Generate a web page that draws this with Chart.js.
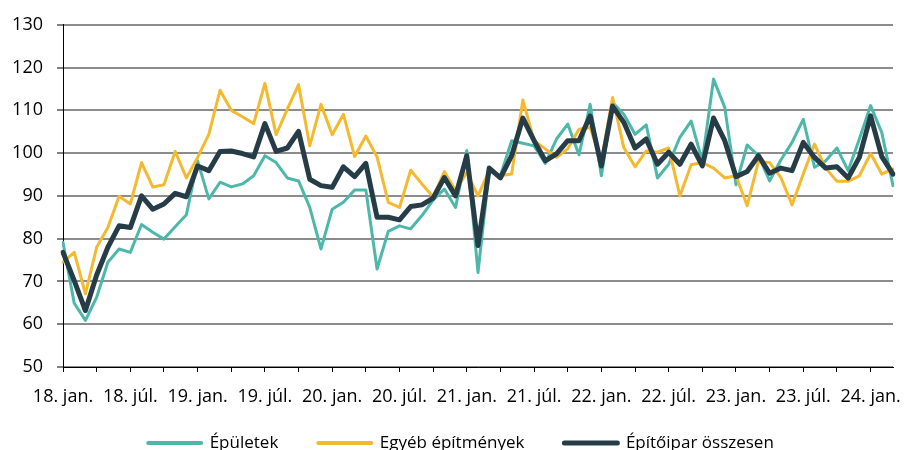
<!DOCTYPE html>
<html>
<head>
<meta charset="utf-8">
<script src="https://cdn.jsdelivr.net/npm/chart.js@4.4.1/dist/chart.umd.min.js"></script>
<style>
html,body{margin:0;padding:0;background:#ffffff;}
#wrap{width:907px;height:450px;position:relative;}
</style>
</head>
<body>
<div id="wrap"><canvas id="c" width="907" height="450"></canvas></div>
<script>
const categories = [
  '18. jan.','18. febr.','18. márc.','18. ápr.','18. máj.','18. jún.','18. júl.','18. aug.','18. szept.','18. okt.','18. nov.','18. dec.',
  '19. jan.','19. febr.','19. márc.','19. ápr.','19. máj.','19. jún.','19. júl.','19. aug.','19. szept.','19. okt.','19. nov.','19. dec.',
  '20. jan.','20. febr.','20. márc.','20. ápr.','20. máj.','20. jún.','20. júl.','20. aug.','20. szept.','20. okt.','20. nov.','20. dec.',
  '21. jan.','21. febr.','21. márc.','21. ápr.','21. máj.','21. jún.','21. júl.','21. aug.','21. szept.','21. okt.','21. nov.','21. dec.',
  '22. jan.','22. febr.','22. márc.','22. ápr.','22. máj.','22. jún.','22. júl.','22. aug.','22. szept.','22. okt.','22. nov.','22. dec.',
  '23. jan.','23. febr.','23. márc.','23. ápr.','23. máj.','23. jún.','23. júl.','23. aug.','23. szept.','23. okt.','23. nov.','23. dec.',
  '24. jan.','24. febr.','24. márc.'
];

const epuletek = [
  79.1, 64.9, 60.9, 66.3, 74.5, 77.6, 76.8, 83.3, 81.5, 79.9, 82.8, 85.6,
  98.2, 89.3, 93.2, 92.1, 92.8, 94.7, 99.4, 97.8, 94.2, 93.5, 87.3, 77.6,
  86.9, 88.5, 91.4, 91.4, 72.9, 81.7, 83.0, 82.3, 85.4, 89.0, 91.6, 87.3,
  100.6, 72.1, 95.9, 94.7, 102.9, 102.3, 101.7, 97.6, 103.3, 106.8, 99.6, 111.4,
  94.7, 111.8, 109.1, 104.4, 106.6, 94.2, 97.4, 103.7, 107.5, 98.2, 117.3, 110.7,
  92.6, 101.9, 99.4, 93.5, 98.4, 102.5, 107.9, 96.7, 98.2, 101.2, 95.9, 103.3,
  111.1, 104.8, 92.4
];

const egyeb = [
  74.5, 76.8, 67.1, 78.0, 82.6, 89.9, 88.1, 97.8, 92.1, 92.6, 100.4, 94.2,
  99.0, 104.4, 114.7, 110.0, 108.5, 106.9, 116.3, 104.3, 110.3, 116.0, 101.7, 111.4,
  104.3, 109.1, 99.2, 104.0, 99.1, 88.5, 87.3, 96.0, 92.8, 89.8, 95.7, 91.2,
  95.5, 90.0, 95.9, 94.7, 95.1, 112.4, 102.9, 101.0, 99.0, 101.0, 105.6, 106.0,
  98.2, 113.0, 101.3, 96.8, 100.5, 100.2, 101.2, 90.0, 97.3, 97.8, 96.5, 94.2,
  94.7, 87.7, 98.0, 97.8, 94.3, 87.9, 95.1, 102.1, 96.5, 93.4, 93.4, 94.7,
  99.9, 95.1, 96.3
];

const osszesen = [
  76.8, 70.2, 63.2, 71.5, 78.0, 83.0, 82.6, 90.0, 86.9, 88.1, 90.6, 89.8,
  97.0, 95.9, 100.4, 100.5, 99.9, 99.1, 106.9, 100.4, 101.2, 105.1, 93.9, 92.4,
  92.0, 96.8, 94.5, 97.6, 85.0, 85.0, 84.4, 87.5, 87.9, 89.5, 94.3, 90.0,
  99.4, 78.4, 96.5, 94.2, 99.4, 108.2, 102.9, 98.2, 99.8, 102.9, 102.9, 108.7,
  97.0, 111.0, 107.2, 101.2, 103.3, 97.4, 100.2, 97.4, 102.1, 97.0, 108.2, 102.9,
  94.5, 95.7, 99.4, 95.3, 96.5, 95.9, 102.5, 99.0, 96.5, 96.8, 94.2, 99.0,
  108.7, 99.2, 95.1
];

const seriesNames = ['Épületek', 'Egyéb építmények', 'Építőipar összesen'];
const seriesColors = ['#4db8aa', '#f4b92f', '#263d48'];
const seriesWidths = [3, 3, 5];
const seriesOrder = [2, 1, 0];

const yMin = 50, yMax = 130, yStep = 10;

const FONT = '"Open Sans", "Noto Sans", sans-serif';

const seriesData = [epuletek, egyeb, osszesen];
const datasets = seriesData.map((d, i) => ({
  label: seriesNames[i],
  data: d,
  borderColor: seriesColors[i],
  backgroundColor: seriesColors[i],
  borderWidth: seriesWidths[i],
  pointRadius: 0,
  pointHoverRadius: 0,
  tension: 0,
  borderJoinStyle: 'round',
  borderCapStyle: 'round',
  fill: false,
  order: seriesOrder[i]
}));

// nudge the legend box (Excel-like placement)
const legendNudge = {
  id: 'legendNudge',
  afterLayout(chart) {
    const l = chart.legend;
    if (!l) return;
    l.left += 12; l.right += 12;
    l.top -= 12.5;
  }
};

new Chart(document.getElementById('c'), {
  type: 'line',
  data: { labels: categories, datasets: datasets },
  plugins: [legendNudge],
  options: {
    responsive: false,
    animation: false,
    devicePixelRatio: 1,
    layout: { padding: { top: 24, left: 0, right: 9, bottom: 0 } },
    plugins: {
      tooltip: { enabled: false },
      legend: {
        position: 'bottom',
        maxHeight: 43,
        labels: {
          usePointStyle: true,
          pointStyleWidth: 53,
          padding: 40,
          color: '#000000',
          font: { family: FONT, size: 17 },
          generateLabels: (chart) => chart.data.datasets.map((ds, i) => ({
            text: ds.label,
            fillStyle: ds.borderColor,
            strokeStyle: ds.borderColor,
            lineWidth: i === 2 ? 5 : 4,
            lineCap: 'round',
            pointStyle: 'line',
            hidden: false,
            datasetIndex: i,
            fontColor: '#000000'
          }))
        }
      }
    },
    scales: {
      x: {
        type: 'category',
        offset: false,
        grid: {
          drawOnChartArea: false,
          drawTicks: true,
          tickLength: 5,
          tickWidth: 1,
          tickColor: (ctx) => (ctx.index % 3 === 0 ? '#000000' : 'rgba(0,0,0,0)')
        },
        border: { display: true, color: '#000000', width: 1 },
        ticks: {
          autoSkip: false,
          maxRotation: 0,
          minRotation: 0,
          padding: 14,
          color: '#000000',
          font: { family: FONT, size: 18 },
          callback: (v, i) => (i % 6 === 0 ? categories[i] : '')
        },
        afterFit: (s) => { s.height = 40; }
      },
      y: {
        min: yMin,
        max: yMax,
        grid: {
          color: '#8c8c8c',
          lineWidth: 2,
          drawTicks: true,
          tickLength: 6,
          tickColor: '#000000',
          tickWidth: 1
        },
        border: { display: true, color: '#000000', width: 1 },
        ticks: {
          stepSize: yStep,
          padding: 14,
          color: '#000000',
          font: { family: FONT, size: 18 }
        },
        afterFit: (s) => { s.width = 63; }
      }
    }
  }
});
</script>
</body>
</html>
